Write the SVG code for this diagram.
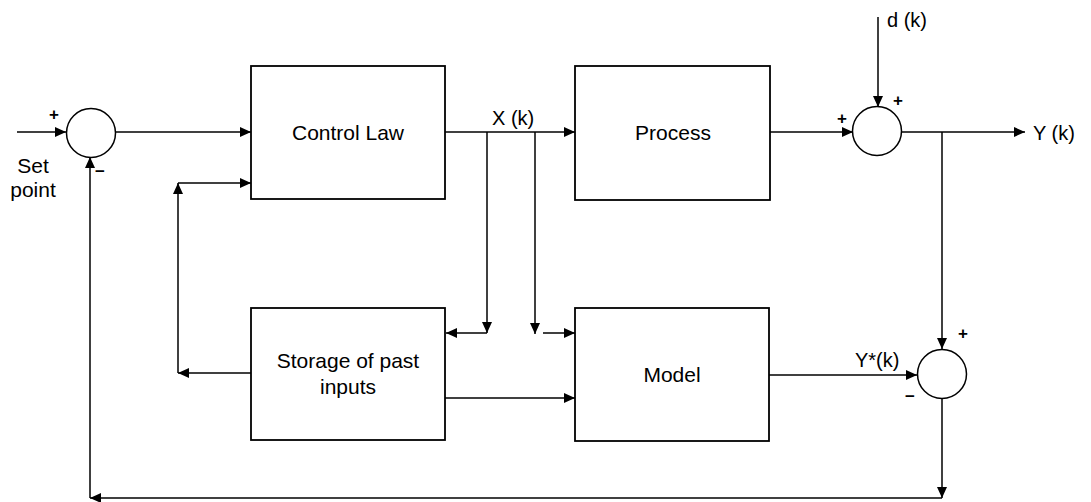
<svg xmlns="http://www.w3.org/2000/svg" width="1091" height="502" viewBox="0 0 1091 502">
<style>
.box{fill:#fff;stroke:#000;stroke-width:1.8}
.sum{fill:#fff;stroke:#000;stroke-width:1.5}
.ln{fill:none;stroke:#000;stroke-width:1.5}
.arr{marker-end:url(#ah)}
text{font-family:"Liberation Sans",Arial,sans-serif;fill:#000}
.lbl{font-size:21px;text-anchor:middle}
.sig{font-size:20px}
.sgn{font-size:17px;font-weight:bold;text-anchor:middle}
</style>
<defs>
<marker id="ah" markerUnits="userSpaceOnUse" markerWidth="12" markerHeight="10" refX="11" refY="5" orient="auto">
<path d="M0,0 L11,5 L0,10 Z" fill="#000"/>
</marker>
</defs>
<rect width="1091" height="502" fill="#fff"/>
<g id="connectors">
<path class="ln arr" d="M17,132 H66"/>
<path class="ln arr" d="M115,132 H251"/>
<path class="ln arr" d="M445,132 H575"/>
<path class="ln arr" d="M487,132 V333"/>
<path class="ln arr" d="M487,333 H446"/>
<path class="ln arr" d="M535,132 V334"/>
<path class="ln arr" d="M543,333 H575"/>
<path class="ln arr" d="M251,373 H178"/>
<path class="ln arr" d="M178,373 V183"/>
<path class="ln arr" d="M178,183 H251"/>
<path class="ln arr" d="M445,398 H575"/>
<path class="ln arr" d="M770,132 H853"/>
<path class="ln arr" d="M878,17 V107"/>
<path class="ln arr" d="M902,132 H1025"/>
<path class="ln arr" d="M942,132 V349"/>
<path class="ln arr" d="M769,375 H917"/>
<path class="ln arr" d="M942,399 V498"/>
<path class="ln arr" d="M942,498 H90"/>
<path class="ln arr" d="M90,498 V157"/>
<text class="sig" x="492" y="125">X (k)</text>
<text class="sig" x="887" y="27">d (k)</text>
<text class="sig" x="1033" y="140">Y (k)</text>
<text class="sig" x="855" y="367">Y*(k)</text>
</g>
<g id="sum1">
<circle class="sum" cx="91" cy="133" r="24.5"/>
<text class="sgn" x="54" y="120">+</text>
<text class="sgn" x="100" y="177">−</text>
<text class="lbl" x="33" y="173">Set</text>
<text class="lbl" x="33" y="197">point</text>
</g>
<g id="control-law">
<rect class="box" x="251" y="66" width="194" height="133"/>
<text class="lbl" x="348" y="140">Control Law</text>
</g>
<g id="process">
<rect class="box" x="575" y="66" width="195" height="134"/>
<text class="lbl" x="673" y="140">Process</text>
</g>
<g id="sum2">
<circle class="sum" cx="877" cy="131" r="24.5"/>
<text class="sgn" x="842" y="124">+</text>
<text class="sgn" x="898" y="106">+</text>
</g>
<g id="storage">
<rect class="box" x="251" y="308" width="194" height="132"/>
<text class="lbl" x="348" y="368">Storage of past</text>
<text class="lbl" x="348" y="394">inputs</text>
</g>
<g id="model">
<rect class="box" x="575" y="308" width="194" height="133"/>
<text class="lbl" x="672" y="382">Model</text>
</g>
<g id="sum3">
<circle class="sum" cx="942" cy="374" r="24.5"/>
<text class="sgn" x="963" y="339">+</text>
<text class="sgn" x="910" y="402">−</text>
</g>
</svg>
